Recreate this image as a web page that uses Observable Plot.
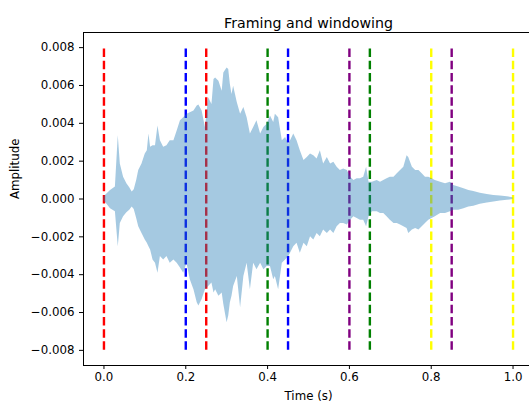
<!DOCTYPE html>
<html><head><meta charset="utf-8">
<script src="https://cdn.jsdelivr.net/npm/d3@7"></script>
<script src="https://cdn.jsdelivr.net/npm/@observablehq/plot@0.6"></script>
<style>html,body{margin:0;padding:0;background:#fff;overflow:hidden}</style>
</head><body><div id="chart"></div>
<script>
// Waveform envelope (time in s, upper / lower amplitude)
const time = [0.000,0.006,0.016,0.028,0.035,0.040,0.048,0.056,0.063,0.069,0.074,0.080,0.085,0.093,0.101,0.106,0.110,0.114,0.120,0.126,0.132,0.138,0.146,0.154,0.162,0.171,0.179,0.187,0.195,0.203,0.211,0.220,0.228,0.232,0.240,0.248,0.256,0.264,0.269,0.273,0.281,0.289,0.293,0.301,0.305,0.309,0.313,0.317,0.326,0.334,0.342,0.350,0.358,0.366,0.374,0.383,0.391,0.399,0.407,0.415,0.419,0.427,0.436,0.444,0.452,0.464,0.472,0.480,0.489,0.497,0.505,0.513,0.521,0.529,0.537,0.546,0.554,0.562,0.570,0.578,0.586,0.595,0.603,0.611,0.619,0.627,0.635,0.642,0.648,0.656,0.668,0.676,0.684,0.692,0.700,0.709,0.717,0.725,0.733,0.741,0.745,0.754,0.762,0.770,0.778,0.786,0.794,0.802,0.810,0.823,0.835,0.847,0.855,0.867,0.880,0.892,0.904,0.920,0.937,0.953,0.969,0.986,1.000];
const upper = [0.00010,0.00024,0.00045,0.00063,0.00334,0.00185,0.00115,0.00080,0.00059,0.00037,0.00049,0.00098,0.00150,0.00185,0.00238,0.00255,0.00343,0.00273,0.00281,0.00281,0.00386,0.00308,0.00273,0.00281,0.00308,0.00308,0.00360,0.00413,0.00430,0.00448,0.00456,0.00465,0.00491,0.00497,0.00465,0.00378,0.00535,0.00500,0.00631,0.00640,0.00622,0.00570,0.00666,0.00692,0.00684,0.00605,0.00552,0.00596,0.00509,0.00448,0.00483,0.00430,0.00343,0.00378,0.00413,0.00343,0.00378,0.00395,0.00439,0.00404,0.00448,0.00430,0.00308,0.00325,0.00290,0.00343,0.00308,0.00255,0.00203,0.00220,0.00238,0.00229,0.00212,0.00255,0.00185,0.00220,0.00185,0.00194,0.00168,0.00150,0.00159,0.00150,0.00115,0.00098,0.00107,0.00107,0.00115,0.00168,0.00089,0.00089,0.00098,0.00089,0.00098,0.00107,0.00115,0.00115,0.00133,0.00150,0.00168,0.00229,0.00220,0.00168,0.00150,0.00150,0.00133,0.00115,0.00115,0.00107,0.00098,0.00089,0.00080,0.00089,0.00072,0.00063,0.00054,0.00045,0.00040,0.00031,0.00024,0.00019,0.00016,0.00012,0.00007];
const lower = [-0.00010,-0.00024,-0.00051,-0.00068,-0.00252,-0.00129,-0.00094,-0.00073,-0.00059,-0.00042,-0.00056,-0.00103,-0.00147,-0.00182,-0.00217,-0.00234,-0.00252,-0.00269,-0.00322,-0.00339,-0.00392,-0.00304,-0.00322,-0.00304,-0.00339,-0.00322,-0.00339,-0.00365,-0.00392,-0.00339,-0.00427,-0.00479,-0.00549,-0.00566,-0.00531,-0.00479,-0.00462,-0.00444,-0.00497,-0.00479,-0.00514,-0.00497,-0.00558,-0.00654,-0.00619,-0.00549,-0.00514,-0.00462,-0.00409,-0.00575,-0.00409,-0.00339,-0.00479,-0.00339,-0.00374,-0.00339,-0.00374,-0.00357,-0.00357,-0.00427,-0.00409,-0.00479,-0.00339,-0.00322,-0.00304,-0.00252,-0.00234,-0.00287,-0.00234,-0.00252,-0.00199,-0.00217,-0.00182,-0.00199,-0.00164,-0.00182,-0.00164,-0.00182,-0.00147,-0.00129,-0.00129,-0.00138,-0.00112,-0.00094,-0.00103,-0.00112,-0.00112,-0.00147,-0.00094,-0.00068,-0.00068,-0.00077,-0.00077,-0.00094,-0.00112,-0.00129,-0.00129,-0.00138,-0.00147,-0.00156,-0.00182,-0.00164,-0.00156,-0.00164,-0.00147,-0.00129,-0.00112,-0.00103,-0.00094,-0.00077,-0.00077,-0.00068,-0.00059,-0.00059,-0.00051,-0.00042,-0.00038,-0.00028,-0.00021,-0.00016,-0.00010,-0.00007,-0.00003];

// Frame boundaries (dashed vertical lines)
const frameStarts = [0.0, 0.2, 0.4, 0.6, 0.8];
const frameEnds = [0.25, 0.45, 0.65, 0.85, 1.0];
const frameColors = ["red", "blue", "green", "purple", "yellow"];
const lineSpan = [-0.008, 0.008];

// Ticks and labels
const xTicks = [0.0, 0.2, 0.4, 0.6, 0.8, 1.0];
const yTicks = [-0.008, -0.006, -0.004, -0.002, 0.000, 0.002, 0.004, 0.006, 0.008];
const titleText = "Framing and windowing";
const xLabel = "Time (s)";
const yLabel = "Amplitude";

const wave = time.map((t, i) => ({t, hi: upper[i], lo: lower[i]}));
const lines = [];
frameStarts.forEach((s, i) => {
  lines.push({x: s, y1: lineSpan[0], y2: lineSpan[1], color: frameColors[i]});
  lines.push({x: frameEnds[i], y1: lineSpan[0], y2: lineSpan[1], color: frameColors[i]});
});

const chart = Plot.plot({
  width: 529, height: 404,
  marginLeft: 83, marginRight: -4, marginTop: 32, marginBottom: 39,
  style: {fontFamily: "'DejaVu Sans', sans-serif", fontSize: "11.8px", color: "black", background: "white", overflow: "hidden"},
  x: {domain: [-0.05, 1.05], label: null},
  y: {domain: [-0.0088, 0.0088], label: null},
  color: {type: "identity"},
  marks: [
    Plot.ruleX(lines, {x: "x", y1: "y1", y2: "y2", stroke: "color", strokeWidth: 2.4, strokeDasharray: "8.5,3.7"}),
    Plot.areaY(wave, {x: "t", y1: "lo", y2: "hi", fill: "#1f77b4", fillOpacity: 0.4}),
    Plot.frame({stroke: "black"}),
    Plot.axisX({ticks: xTicks, tickFormat: d3.format(".1f"), tickSize: 4, tickPadding: 3, label: null}),
    Plot.axisY({ticks: yTicks, tickFormat: d3.format(".3f"), tickSize: 4, tickPadding: 5, label: null}),
    Plot.text([titleText], {frameAnchor: "top", dy: -15, fontSize: 14.2, text: d => d}),
    Plot.text([xLabel], {frameAnchor: "bottom", dy: 34, text: d => d}),
    Plot.text([yLabel], {frameAnchor: "left", dx: -68, rotate: -90, text: d => d})
  ]
});
document.getElementById("chart").appendChild(chart);
</script>
</body></html>
